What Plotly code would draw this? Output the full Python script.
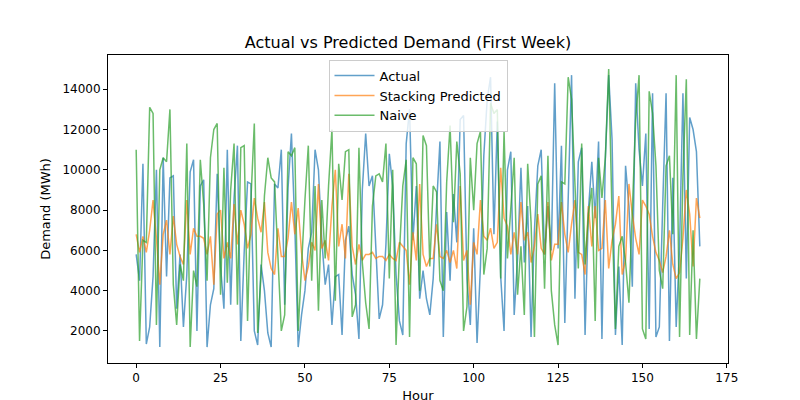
import plotly.graph_objects as go

actual = [5800, 4500, 10300, 1350, 2200, 4700, 10000, 1200, 10600, 4700, 9600, 9700, 3100, 5800, 2200, 4800, 9900, 10500, 2000, 9200, 9500, 1200, 3300, 4100, 9800, 5200, 3100, 11000,
          3300, 8600, 11200, 1500, 5900, 9400, 9300, 2000, 1300, 5300, 4000, 1900, 1200, 9300, 9100, 11000, 3300, 9100, 11800, 7200, 1200, 2800, 4000, 6100, 6900, 11000, 10000, 6500,
          4300, 5300, 2300, 4700, 4800, 1800, 6500, 7200, 4800, 3800, 1600, 9000, 11800, 9200, 9700, 6100, 2600, 3300, 6300, 10800, 9200, 4800, 2500, 1800, 11300, 13000, 6500, 9200,
          3600, 5000, 3600, 2800, 4600, 8200, 11400, 1700, 7900, 4500, 8800, 6400, 12500, 12700, 4600, 2300, 7100, 1400, 5200, 10700, 13500, 14600, 6800, 12400, 4700, 2000, 10000, 10900,
          2800, 5600, 10100, 5400, 8200, 1700, 7000, 10200, 11000, 5800, 8200, 6000, 14300, 6100, 11200, 2400, 8800, 14700, 3600, 10400, 11100, 1800, 8000, 10400, 7600, 11400, 1600, 10500,
          14700, 11500, 1800, 5200, 1300, 10200, 8200, 4200, 14300, 11000, 9200, 11800, 2100, 13800, 1700, 2200, 8200, 13800, 1500, 9600, 2200, 6200, 13800, 4600, 12600, 12000, 10900, 6200]

stacking = [6800, 5900, 6700, 5900, 7000, 8500, 6600, 4300, 6800, 7500, 5800, 7700, 6300, 5700, 5300, 8500, 5800, 7100, 6700, 6700, 6600, 5800, 6700, 4300, 7800, 8000, 5600, 6400,
            5600, 8300, 6300, 8000, 7300, 6100, 6800, 8600, 7600, 6900, 8400, 5900, 5100, 4800, 7100, 5700, 5700, 6600, 8400, 6800, 8100, 5900, 4500, 5200, 6400, 6000, 9300, 6100,
            6500, 5500, 8200, 10000, 6200, 7300, 5600, 9800, 6200, 5300, 6300, 5500, 5800, 5800, 5900, 5600, 5700, 5700, 5500, 5800, 5600, 5500, 6400, 6200, 6000, 4300, 6900, 5500,
            9300, 5800, 5200, 5600, 5600, 7300, 5700, 5600, 6000, 5400, 6000, 5100, 9200, 5500, 6000, 3300, 6400, 5800, 8500, 6700, 6500, 7100, 6100, 6400, 10100, 7600, 7200, 5800,
            6900, 5800, 8400, 6500, 6900, 5400, 6200, 7800, 6100, 5800, 8400, 5500, 6300, 6300, 8400, 6800, 5900, 7300, 8500, 5900, 5800, 4800, 8200, 6200, 8200, 6000, 6100, 8500,
            5100, 6500, 7300, 8700, 4800, 5500, 9300, 7800, 6600, 5800, 8500, 8200, 7800, 6700, 5900, 5500, 4900, 5700, 7000, 5300, 4600, 4900, 6600, 9000, 7800, 5200, 8600, 7600]

naive = [11000, 1500, 6500, 6400, 13100, 12800, 2300, 10000, 10600, 10400, 13000, 4300, 2300, 5300, 4500, 11300, 1200, 5000, 4200, 10500, 8300, 4500, 10600, 12000, 12300, 3800, 10100, 4400,
         9000, 11300, 3300, 11100, 11200, 2500, 8500, 12300, 1900, 4800, 8700, 10600, 9600, 9400, 5700, 2000, 2800, 10900, 10700, 11100, 2000, 5500, 8500, 11200, 4500, 9200, 3000, 8500,
         5600, 9200, 12000, 3500, 10300, 8500, 10900, 11000, 2700, 3300, 11100, 5400, 3400, 2100, 8200, 9700, 9800, 9400, 11300, 4600, 10000, 1300, 5900, 9200, 10500, 1700, 10600, 10300,
         4000, 11700, 11200, 5200, 9200, 8900, 4500, 4000, 9400, 12200, 7400, 11400, 9800, 2000, 3200, 10600, 8000, 11300, 11900, 4800, 6100, 13300, 12800, 13000, 4600, 11900, 5600, 8100,
         10600, 3800, 6200, 2800, 10300, 7400, 1700, 9300, 9700, 4100, 10700, 4000, 2300, 1300, 9400, 9300, 14600, 13500, 9500, 5100, 11300, 5300, 7800, 9100, 2500, 10600, 8600, 10600,
         15000, 7700, 2100, 6200, 6700, 5400, 3400, 8100, 12500, 14700, 2100, 1600, 13900, 12800, 10200, 5000, 4100, 10200, 10700, 6800, 14700, 1700, 9700, 14500, 1800, 7000, 1600, 4600]

series = [("Actual", actual, "#1f77b4"),
          ("Stacking Predicted", stacking, "#ff7f0e"),
          ("Naive", naive, "#2ca02c")]

fig = go.Figure()
for name, vals, color in series:
    fig.add_trace(go.Scatter(x=list(range(len(vals))), y=vals, mode="lines", name=name,
                             line=dict(color=color, width=1.5), opacity=0.7))

axis = dict(showgrid=False, zeroline=False, showline=True, linecolor="black", mirror=True,
            ticks="outside", ticklen=4, tickcolor="black", tickfont=dict(size=12), automargin=False)
fig.update_layout(
    width=800, height=400,
    template="plotly_white",
    font=dict(family="DejaVu Sans", color="black", size=12),
    title=dict(text="Actual vs Predicted Demand (First Week)", x=0.5, xanchor="center",
               y=0.915, yanchor="middle", font=dict(size=16)),
    margin=dict(l=100, r=80, t=47, b=45, autoexpand=False),
    xaxis=dict(axis, range=[-8.35, 175.35], tickvals=[0, 25, 50, 75, 100, 125, 150, 175],
               title=dict(text="Hour", standoff=6, font=dict(size=13))),
    yaxis=dict(axis, range=[410, 15700], tickvals=list(range(2000, 15000, 2000)), tickformat="d",
               title=dict(text="Demand (MWh)", standoff=8, font=dict(size=13))),
    legend=dict(x=0.5, xanchor="center", y=0.985, yanchor="top", bgcolor="rgba(255,255,255,0.8)",
                bordercolor="#cccccc", borderwidth=1, font=dict(size=13), tracegroupgap=0,
                itemwidth=40),
)
fig.write_html("out.html")
